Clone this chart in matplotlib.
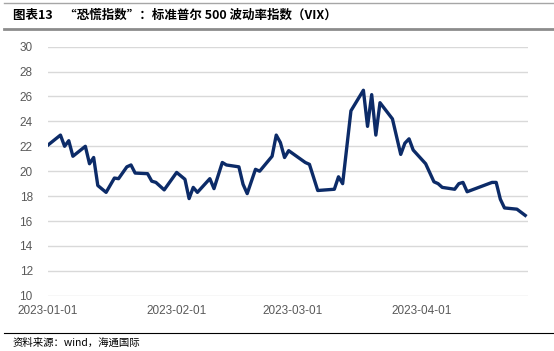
import matplotlib
matplotlib.use("Agg")
import matplotlib.pyplot as plt
import matplotlib.dates as mdates
import pandas as pd

plt.rcParams['font.family'] = ['Liberation Sans', 'Noto Sans CJK SC', 'DejaVu Sans']

# VIX readings (turning points)
dates = ["2023-01-01", "2023-01-04", "2023-01-05", "2023-01-06", "2023-01-07",
         "2023-01-10", "2023-01-11", "2023-01-12", "2023-01-13", "2023-01-15",
         "2023-01-17", "2023-01-18", "2023-01-20", "2023-01-21", "2023-01-22",
         "2023-01-25", "2023-01-26", "2023-01-27", "2023-01-29", "2023-02-01",
         "2023-02-03", "2023-02-04", "2023-02-05", "2023-02-06", "2023-02-09",
         "2023-02-10", "2023-02-12", "2023-02-13", "2023-02-16", "2023-02-17",
         "2023-02-18", "2023-02-20", "2023-02-21", "2023-02-24", "2023-02-25",
         "2023-02-26", "2023-02-27", "2023-02-28", "2023-03-04", "2023-03-05",
         "2023-03-07", "2023-03-11", "2023-03-12", "2023-03-13", "2023-03-15",
         "2023-03-18", "2023-03-19", "2023-03-20", "2023-03-21", "2023-03-22",
         "2023-03-25", "2023-03-27", "2023-03-28", "2023-03-29", "2023-03-30",
         "2023-04-02", "2023-04-04", "2023-04-05", "2023-04-06", "2023-04-09",
         "2023-04-10", "2023-04-11", "2023-04-12", "2023-04-18", "2023-04-19",
         "2023-04-20", "2023-04-21", "2023-04-24", "2023-04-26"]
vix = [22.1, 22.9, 22.0, 22.45, 21.2,
       22.0, 20.6, 21.1, 18.85, 18.3,
       19.45, 19.4, 20.35, 20.5, 19.85,
       19.8, 19.2, 19.1, 18.5, 19.9,
       19.35, 17.8, 18.7, 18.3, 19.4,
       18.6, 20.7, 20.5, 20.35, 18.95,
       18.2, 20.15, 20.0, 21.2, 22.9,
       22.3, 21.1, 21.65, 20.7, 20.55,
       18.45, 18.55, 19.55, 19.0, 24.85,
       26.5, 23.6, 26.15, 22.9, 25.5,
       24.2, 21.35, 22.25, 22.6, 21.7,
       20.6, 19.15, 19.0, 18.7, 18.55,
       19.0, 19.1, 18.35, 19.1, 19.1,
       17.75, 17.05, 16.95, 16.45]
yticks = list(range(10, 31, 2))
xticks = ["2023-01-01", "2023-02-01", "2023-03-01", "2023-04-01"]

title = "图表13    “恐慌指数”：标准普尔 500 波动率指数（VIX）"
source = "资料来源：wind，海通国际"

x = pd.to_datetime(dates)

fig = plt.figure(figsize=(5.54, 3.51), dpi=100)
ax = fig.add_axes([48 / 554, 0.1575, 480 / 554, 0.7095])

ax.plot(x, vix, color='#0c2b68', lw=2.4, solid_joinstyle='round', zorder=3)

ax.set_ylim(10, 30)
ax.set_yticks(yticks)
ax.set_xlim(pd.Timestamp("2023-01-01 06:00"), pd.Timestamp("2023-04-26 16:00"))
ax.set_xticks(pd.to_datetime(xticks))
ax.xaxis.set_major_formatter(mdates.DateFormatter("%Y-%m-%d"))
ax.grid(axis='y', color='#d9d9d9', lw=1.0)
ax.set_axisbelow(True)
for s in ax.spines.values():
    s.set_visible(False)
ax.tick_params(length=0, labelsize=8.5, colors='#595959')
ax.tick_params(axis='y', pad=11)
ax.tick_params(axis='x', pad=7)

# header and footer decoration
fig.add_artist(plt.Line2D([0.008, 1.0], [1 - 3 / 351, 1 - 3 / 351], color='#a6a6a6', lw=1.0))
fig.add_artist(plt.Line2D([0.008, 1.0], [1 - 29 / 351, 1 - 29 / 351], color='#8c8c8c', lw=2.0))
fig.text(13 / 554, 1 - 15 / 351, title, fontsize=9, fontweight='bold', va='center',
         family=['Noto Sans CJK SC', 'DejaVu Sans'])
fig.add_artist(plt.Line2D([0.008, 1.0], [1 - 333 / 351, 1 - 333 / 351], color='#000000', lw=0.8))
fig.text(13 / 554, 1 - 343 / 351, source, fontsize=7.5, va='center',
         family=['Noto Sans CJK SC', 'DejaVu Sans'])

fig.savefig("out.png", dpi=100)
